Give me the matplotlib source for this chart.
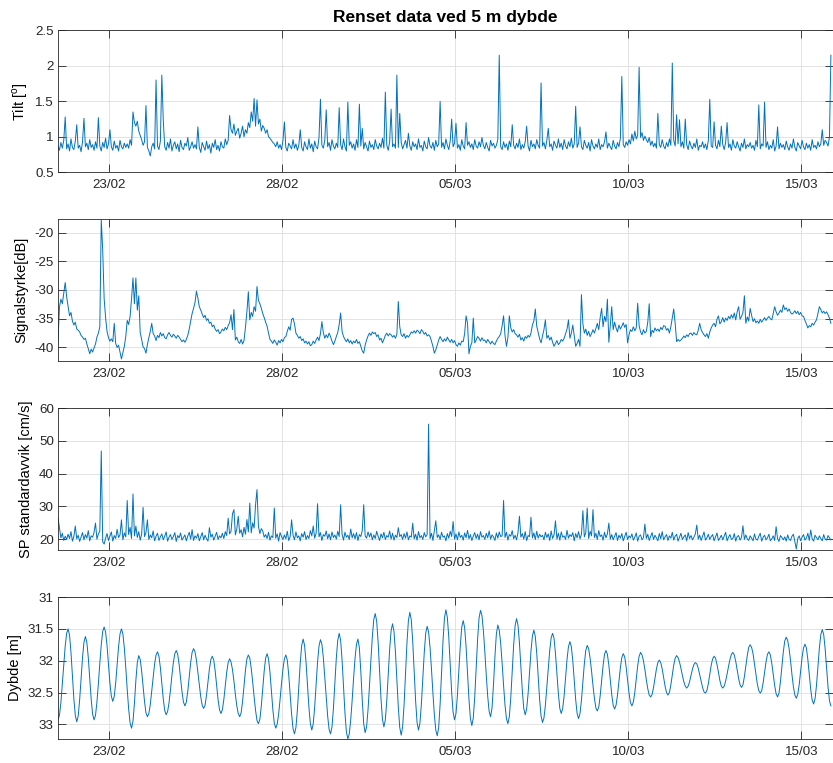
import numpy as np
import matplotlib
matplotlib.use("Agg")
import matplotlib.pyplot as plt
import matplotlib.dates as mdates
from matplotlib.ticker import FuncFormatter

plt.rcParams['font.family'] = ['Liberation Sans', 'DejaVu Sans']
plt.rcParams['axes.unicode_minus'] = False

# hourly samples, first one at 21/02 12:24
t0 = np.datetime64('2017-02-21T12:24')
t_end = t0 + np.timedelta64(32268, 'm')
tick_days = ['2017-02-23', '2017-02-28', '2017-03-05', '2017-03-10', '2017-03-15']

tilt = [
    0.86, 0.81, 0.92, 0.84, 0.95, 1.28, 0.83, 0.90, 0.80, 0.97, 0.85, 0.82, 0.94, 1.17, 0.84, 0.88, 0.79, 0.93, 1.26, 0.86, 0.91, 0.82, 0.96, 0.85,
    0.89, 0.81, 0.93, 0.84, 1.27, 0.87, 0.80, 0.92, 0.85, 0.98, 0.83, 0.90, 1.10, 0.86, 0.81, 0.94, 0.84, 0.88, 0.80, 0.95, 0.86, 0.83, 0.91, 0.85,
    0.90, 0.84, 0.96, 0.88, 1.35, 1.20, 1.15, 1.22, 1.08, 1.02, 0.96, 0.88, 0.93, 1.44, 0.85, 0.80, 0.73, 0.86, 0.91, 0.83, 1.80, 0.87, 0.82, 0.94,
    1.87, 1.24, 0.86, 0.81, 0.92, 0.84, 0.97, 0.80, 0.88, 0.93, 0.83, 0.90, 0.79, 0.95, 0.85, 0.82, 0.91, 0.87, 0.99, 0.81, 0.86, 0.93, 0.84, 0.89,
    0.83, 1.14, 0.85, 0.78, 0.92, 0.86, 0.81, 0.94, 0.83, 0.89, 0.77, 0.91, 0.85, 0.96, 0.82, 0.88, 0.80, 0.93, 0.86, 0.84, 0.97, 0.89, 0.95, 1.30,
    1.10, 1.05, 1.18, 1.02, 1.08, 1.12, 0.98, 1.05, 1.15, 1.00, 1.10, 1.05, 1.20, 1.13, 1.35, 1.22, 1.54, 1.15, 1.52, 1.18, 1.25, 1.08, 1.16, 1.12,
    1.05, 1.10, 1.00, 0.98, 0.95, 0.92, 0.90, 0.86, 0.93, 0.84, 0.89, 0.82, 0.95, 1.21, 0.85, 0.80, 0.91, 0.87, 0.83, 0.96, 0.84, 0.90, 0.81, 0.88,
    1.10, 0.85, 0.80, 0.93, 0.86, 0.82, 0.97, 0.84, 0.90, 0.79, 0.94, 0.86, 0.83, 0.99, 1.53, 0.88, 0.84, 0.95, 1.38, 0.86, 0.92, 0.81, 0.96, 0.87,
    0.83, 0.91, 0.85, 1.41, 0.89, 0.82, 0.97, 0.86, 0.80, 1.49, 0.88, 0.93, 0.84, 0.90, 0.81, 0.96, 0.85, 1.46, 0.87, 1.12, 0.83, 0.92, 0.86, 0.80,
    0.94, 0.85, 0.89, 0.82, 0.96, 0.87, 0.83, 0.91, 0.85, 0.98, 0.84, 1.63, 0.88, 0.81, 0.93, 1.39, 0.86, 0.90, 0.84, 1.87, 0.85, 1.33, 0.92, 0.83,
    0.89, 0.95, 0.84, 1.05, 0.87, 0.81, 0.93, 0.86, 0.90, 0.82, 0.97, 0.85, 0.88, 0.80, 0.94, 0.86, 0.83, 0.99, 0.87, 0.84, 0.92, 0.81, 0.95, 0.86,
    0.90, 1.50, 0.85, 0.92, 0.83, 0.97, 0.88, 0.82, 0.94, 1.25, 0.86, 0.91, 1.19, 0.84, 0.89, 0.81, 0.96, 0.87, 0.83, 1.20, 0.88, 0.93, 0.85, 0.90,
    0.82, 0.96, 0.87, 0.84, 0.93, 0.86, 0.99, 0.88, 0.83, 0.92, 0.85, 0.80, 0.95, 0.87, 0.91, 0.84, 0.88, 0.96, 2.15, 0.86, 0.82, 0.93, 0.85, 0.90,
    0.81, 0.94, 0.86, 1.17, 0.88, 0.83, 0.91, 0.85, 0.97, 0.82, 0.89, 0.84, 0.93, 1.15, 0.87, 0.80, 0.95, 0.86, 0.90, 0.83, 0.96, 0.88, 0.84, 1.76,
    0.87, 0.92, 0.83, 0.95, 1.12, 0.86, 0.90, 0.81, 0.94, 0.88, 0.84, 0.97, 0.85, 0.91, 0.82, 0.96, 0.87, 0.83, 0.93, 0.86, 0.98, 0.84, 0.90, 1.43,
    0.85, 0.91, 1.14, 0.86, 0.82, 0.95, 0.88, 0.84, 0.92, 0.80, 0.96, 0.87, 0.83, 0.90, 0.85, 0.97, 0.82, 0.89, 0.86, 0.93, 1.07, 0.84, 0.91, 0.86,
    0.82, 0.95, 0.87, 0.83, 0.92, 0.86, 0.98, 1.85, 0.89, 0.85, 0.93, 0.88, 0.96, 0.90, 1.04, 0.94, 1.08, 0.97, 1.02, 1.98, 0.99, 1.06, 0.95, 1.01,
    0.96, 0.92, 0.99, 0.88, 0.94, 0.86, 0.91, 0.84, 1.33, 0.89, 0.85, 0.96, 0.87, 0.83, 0.92, 0.86, 0.97, 0.88, 2.04, 0.95, 0.87, 1.31, 0.90, 1.24,
    0.86, 0.93, 0.84, 1.25, 0.89, 0.82, 0.94, 0.87, 0.83, 0.91, 0.85, 0.97, 0.81, 0.88, 0.86, 0.93, 0.84, 0.90, 0.82, 0.95, 1.53, 0.87, 0.85, 1.21,
    0.88, 0.83, 0.95, 0.86, 1.15, 0.89, 0.82, 0.92, 1.20, 0.85, 0.90, 0.81, 0.96, 0.87, 0.84, 0.93, 0.86, 0.80, 0.91, 0.85, 0.97, 0.83, 0.89, 0.86,
    0.92, 0.84, 0.88, 0.81, 0.95, 0.86, 1.45, 0.83, 0.90, 0.87, 1.49, 0.85, 0.93, 0.82, 0.88, 0.84, 0.96, 0.80, 0.87, 1.14, 0.83, 0.91, 0.85, 0.89,
    0.82, 0.94, 0.86, 0.81, 0.90, 0.84, 0.97, 0.85, 0.80, 0.92, 0.87, 0.83, 0.95, 0.86, 0.82, 0.91, 0.84, 0.89, 0.81, 0.96, 0.85, 0.88, 0.83, 0.93,
    0.86, 0.90, 1.10, 0.88, 0.95, 0.92, 0.87, 1.00, 2.15,
]

signal = [
    -38.9, -33.0, -31.6, -32.4, -30.6, -28.7, -31.2, -32.8, -34.5, -33.9, -35.4, -36.1, -35.6, -36.8, -37.0, -37.3, -37.9, -38.2, -38.6, -38.4, -39.4, -40.2, -41.1, -40.3,
    -40.8, -40.1, -39.4, -38.2, -37.5, -36.4, -17.8, -23.0, -31.5, -34.8, -37.2, -38.3, -38.9, -38.5, -39.0, -35.8, -39.3, -40.0, -39.6, -40.8, -42.0, -40.9, -39.8, -38.1,
    -35.3, -36.0, -34.6, -31.5, -27.9, -32.4, -27.9, -33.5, -31.0, -37.4, -38.6, -39.9, -40.2, -41.0, -39.5, -38.3, -37.2, -35.8, -37.6, -38.0, -38.8, -37.9, -38.3, -37.4,
    -38.0, -37.6, -38.3, -38.5, -37.8, -37.4, -37.9, -38.2, -37.7, -38.0, -38.4, -37.9, -38.2, -38.6, -39.0, -38.7, -39.1, -38.6, -37.9, -36.8, -35.4, -34.1, -33.2, -32.2,
    -30.2, -31.4, -32.9, -33.5, -34.2, -34.8, -34.4, -35.3, -35.0, -35.8, -35.6, -36.4, -36.1, -36.8, -37.2, -36.9, -37.6, -37.3, -36.8, -37.1, -36.5, -36.9, -36.2, -35.7,
    -34.3, -36.9, -33.4, -38.7, -38.2, -39.0, -39.3, -38.6, -39.4, -38.8, -36.5, -33.8, -30.3, -35.2, -33.9, -34.6, -32.9, -33.7, -29.4, -31.8, -32.4, -33.2, -34.1, -34.8,
    -35.6, -36.3, -37.5, -38.6, -38.9, -39.3, -38.7, -39.1, -39.6, -38.8, -39.2, -38.6, -39.0, -38.3, -38.1, -37.2, -36.4, -37.0, -35.1, -34.9, -35.9, -37.5, -37.9, -38.4,
    -38.1, -38.8, -38.5, -39.2, -38.9, -39.4, -39.0, -39.7, -39.5, -38.9, -39.3, -38.7, -38.2, -38.8, -37.6, -35.5, -37.4, -38.4, -37.8, -38.3, -37.5, -38.1, -38.9, -39.5,
    -38.9, -38.1, -37.4, -36.0, -34.0, -37.2, -38.1, -38.6, -39.0, -38.5, -39.2, -38.8, -39.4, -38.9, -39.2, -38.6, -39.3, -39.0, -39.8, -40.6, -41.0, -39.6, -38.7, -38.0,
    -37.5, -37.9, -37.3, -37.6, -37.4, -38.1, -37.8, -38.7, -38.4, -39.2, -38.6, -37.9, -37.5, -38.0, -37.6, -37.8, -38.2, -37.9, -38.4, -37.7, -32.0, -36.4, -37.8, -38.1,
    -37.6, -38.4, -37.9, -38.2, -37.8, -37.3, -37.5, -37.1, -37.5, -37.0, -37.2, -37.6, -36.9, -37.2, -37.7, -37.4, -38.0, -37.8, -38.1, -38.9, -39.8, -41.0, -40.4, -39.6,
    -38.7, -38.1, -38.6, -39.0, -38.5, -38.9, -38.2, -38.7, -39.1, -38.6, -39.2, -38.8, -39.5, -39.8, -39.2, -39.6, -38.9, -39.0, -37.6, -34.5, -35.8, -41.1, -39.8, -39.2,
    -34.9, -39.2, -38.7, -38.1, -38.4, -38.9, -38.3, -38.8, -38.7, -39.2, -38.6, -39.0, -39.4, -38.9, -39.3, -39.5, -38.9, -38.4, -38.1, -37.6, -36.2, -34.5, -37.9, -39.8,
    -38.3, -34.5, -36.6, -37.3, -36.9, -37.6, -37.8, -38.2, -37.7, -38.7, -38.3, -38.9, -38.1, -38.4, -37.9, -38.2, -37.5, -36.1, -35.4, -33.3, -36.3, -37.4, -38.5, -39.2,
    -38.0, -36.9, -35.2, -38.4, -37.9, -38.7, -38.2, -39.1, -39.8, -39.3, -38.8, -39.5, -39.2, -38.6, -38.9, -38.4, -37.6, -36.8, -35.2, -38.4, -37.5, -36.1, -37.9, -39.8,
    -39.3, -38.6, -39.8, -30.8, -35.9, -37.5, -36.8, -37.9, -37.2, -38.1, -37.6, -36.9, -37.5, -36.7, -35.8, -36.9, -34.8, -33.2, -36.4, -34.6, -35.5, -31.6, -39.1, -36.2,
    -32.9, -36.9, -35.6, -36.6, -37.3, -36.1, -36.8, -36.3, -35.7, -36.5, -36.0, -39.2, -37.8, -36.9, -37.2, -36.4, -37.1, -36.6, -32.3, -36.2, -37.3, -37.8, -36.9, -37.5,
    -37.2, -35.6, -32.4, -38.1, -37.0, -37.4, -36.6, -37.1, -36.8, -37.2, -36.5, -36.9, -36.2, -36.3, -37.0, -36.7, -37.5, -36.4, -34.8, -33.3, -35.8, -39.0, -38.6, -38.9,
    -38.7, -38.4, -38.0, -38.3, -37.8, -38.1, -37.6, -37.5, -37.9, -37.4, -37.7, -37.8, -37.0, -35.8, -36.9, -37.4, -37.8, -38.1, -37.6, -38.4, -37.3, -36.6, -36.1, -35.8,
    -36.4, -35.1, -34.5, -35.9, -35.5, -34.8, -35.6, -34.9, -35.3, -34.6, -35.0, -34.3, -34.9, -34.0, -35.2, -33.8, -32.9, -35.1, -34.6, -33.9, -31.0, -35.8, -34.7, -35.4,
    -33.2, -34.4, -35.5, -35.0, -35.7, -35.4, -35.8, -35.1, -35.6, -35.2, -34.8, -35.3, -34.9, -34.6, -35.0, -35.2, -34.1, -32.9, -33.8, -34.4, -34.0, -33.5, -33.9, -32.6,
    -33.4, -33.1, -33.7, -33.3, -33.9, -34.2, -34.0, -33.6, -34.1, -33.7, -34.3, -33.9, -34.5, -34.6, -35.3, -35.9, -36.6, -36.2, -36.4, -35.8, -36.1, -35.6, -35.2, -34.1,
    -32.9, -33.4, -34.0, -33.7, -34.1, -33.8, -34.3, -34.9, -35.8,
]

sp_std = [
    26.6, 23.5, 20.4, 21.8, 19.6, 20.9, 19.9, 21.5, 20.2, 22.3, 19.4, 20.8, 24.0, 20.1, 21.2, 19.3, 20.7, 22.0, 19.8, 21.4, 20.3, 22.6, 19.5, 21.0,
    20.6, 22.1, 24.9, 20.0, 21.6, 22.4, 46.9, 19.2, 18.5, 20.3, 21.7, 19.6, 20.9, 22.2, 19.4, 21.1, 20.2, 23.0, 20.5, 21.3, 25.9, 19.8, 21.9, 20.7,
    31.8, 21.4, 23.6, 20.2, 33.8, 21.0, 24.0, 20.5, 22.3, 19.7, 21.5, 29.7, 20.8, 22.0, 25.9, 19.9, 21.3, 20.4, 22.5, 19.5, 20.9, 21.8, 19.6, 20.7,
    21.6, 19.8, 20.9, 22.2, 19.4, 20.6, 21.4, 19.9, 20.8, 22.0, 19.3, 21.1, 20.4, 21.9, 19.7, 20.5, 21.3, 19.5, 20.9, 22.1, 20.0, 22.9, 19.6, 21.0,
    20.3, 21.7, 19.5, 20.8, 22.0, 19.8, 21.2, 20.1, 19.4, 23.5, 20.6, 21.5, 19.7, 20.9, 22.1, 19.9, 21.0, 20.4, 21.8, 20.2, 22.3, 21.1, 26.4, 21.6,
    22.4, 27.7, 29.0, 21.3, 23.1, 27.0, 21.8, 22.9, 20.7, 23.6, 21.5, 26.0, 22.2, 31.0, 21.9, 25.0, 23.4, 30.5, 35.1, 24.0, 21.7, 23.2, 22.5, 20.6,
    21.4, 20.2, 22.1, 19.7, 21.0, 20.5, 29.5, 20.3, 21.6, 19.4, 22.0, 20.8, 19.9, 21.3, 20.1, 22.4, 19.6, 20.7, 25.9, 21.2, 19.8, 22.2, 20.4, 21.0,
    19.5, 21.7, 20.6, 22.3, 19.9, 21.1, 20.2, 22.6, 21.0, 24.0, 20.3, 21.8, 30.8, 20.7, 22.0, 19.6, 21.4, 20.9, 22.5, 20.1, 21.6, 19.8, 22.2, 20.5,
    21.3, 20.0, 22.4, 20.8, 30.5, 21.5, 19.7, 22.1, 20.6, 21.2, 19.9, 23.1, 20.4, 21.7, 20.1, 22.0, 19.6, 21.4, 20.8, 22.6, 30.5, 21.0, 20.3, 22.2,
    20.7, 21.9, 19.8, 21.3, 20.2, 22.4, 20.9, 19.6, 21.6, 20.4, 22.1, 19.9, 21.1, 20.6, 22.5, 20.0, 21.8, 19.7, 21.2, 20.5, 23.5, 20.8, 21.4, 19.9,
    21.7, 20.3, 22.2, 19.8, 21.0, 20.6, 24.9, 20.1, 21.5, 19.7, 22.3, 20.4, 21.1, 19.9, 22.0, 20.7, 21.4, 55.1, 20.2, 21.8, 19.6, 22.6, 25.6, 20.5,
    21.3, 19.9, 22.1, 20.6, 21.0, 19.5, 21.7, 20.3, 22.4, 20.8, 25.4, 20.0, 21.6, 19.8, 22.2, 20.5, 21.2, 19.7, 21.9, 20.4, 22.7, 20.1, 21.4, 19.6,
    20.9, 22.0, 20.2, 21.5, 19.8, 22.3, 20.6, 21.1, 19.9, 21.8, 20.4, 22.5, 20.0, 21.3, 20.7, 19.6, 21.9, 20.3, 22.2, 20.8, 21.0, 31.8, 20.5, 22.1,
    19.7, 21.4, 20.9, 22.6, 20.1, 21.2, 19.8, 22.0, 27.0, 20.6, 21.7, 20.0, 22.3, 19.6, 21.1, 20.8, 26.7, 20.4, 21.9, 19.9, 22.4, 20.3, 21.5, 20.7,
    21.2, 19.8, 22.1, 20.5, 21.6, 19.6, 22.5, 20.2, 21.3, 25.6, 20.0, 21.8, 19.7, 22.2, 20.6, 21.0, 19.9, 22.7, 20.3, 21.4, 20.8, 22.0, 19.5, 21.7,
    20.4, 22.3, 20.1, 21.5, 28.7, 20.7, 21.9, 29.5, 20.2, 22.4, 21.0, 29.0, 20.5, 21.8, 19.9, 22.6, 20.8, 21.3, 19.7, 22.1, 20.4, 21.6, 24.9, 20.0,
    21.4, 19.8, 20.9, 22.0, 19.6, 21.2, 20.3, 21.7, 19.5, 20.8, 22.1, 19.9, 21.0, 20.4, 21.6, 19.7, 20.6, 21.9, 19.4, 20.9, 21.3, 19.8, 20.5, 24.6,
    20.2, 21.5, 19.6, 20.8, 22.0, 19.9, 21.2, 20.4, 19.5, 21.7, 20.1, 22.3, 19.8, 20.7, 21.4, 19.6, 21.0, 20.3, 22.1, 19.7, 20.9, 21.5, 19.4, 20.6,
    21.8, 19.9, 20.7, 21.3, 19.5, 22.0, 20.2, 21.1, 19.8, 20.6, 21.6, 24.3, 20.0, 21.2, 19.6, 20.9, 22.2, 19.7, 20.4, 21.5, 19.9, 20.8, 21.4, 19.5,
    20.7, 21.9, 19.6, 20.3, 21.2, 19.8, 20.9, 22.1, 19.5, 20.6, 21.4, 19.9, 20.2, 21.7, 19.4, 20.8, 21.1, 19.7, 20.5, 24.1, 19.9, 21.3, 20.1, 19.6,
    21.0, 20.3, 19.5, 21.6, 20.0, 19.7, 20.9, 21.8, 19.4, 20.6, 21.2, 19.8, 20.4, 21.5, 19.5, 20.1, 21.0, 19.6, 23.8, 20.2, 19.3, 21.1, 20.5, 19.8,
    20.7, 19.4, 21.3, 20.0, 19.6, 20.9, 21.5, 19.3, 17.0, 20.2, 21.0, 19.5, 20.6, 21.4, 19.7, 20.3, 21.8, 19.6, 22.8, 20.1, 19.4, 21.2, 20.5, 19.8,
    21.0, 20.2, 19.5, 21.4, 20.0, 19.7, 21.1, 20.4, 19.8,
]

depth = [
    32.93, 32.86, 32.66, 32.37, 32.06, 31.77, 31.57, 31.50,
    31.60, 31.87, 32.23, 32.60, 32.86, 32.96,
    32.87, 32.62, 32.29, 31.95, 31.71, 31.62,
    31.71, 31.95, 32.28, 32.60, 32.84, 32.93,
    32.86, 32.65, 32.36, 32.04, 31.75, 31.54, 31.47,
    31.55, 31.76, 32.06, 32.35, 32.56, 32.64,
    32.56, 32.35, 32.07, 31.78, 31.58, 31.50,
    31.58, 31.80, 32.11, 32.45, 32.76, 32.98, 33.06,
    32.95, 32.67, 32.31, 32.03, 31.92,
    31.98, 32.16, 32.40, 32.64, 32.82, 32.88,
    32.83, 32.69, 32.48, 32.26, 32.05, 31.91, 31.86,
    31.93, 32.11, 32.36, 32.60, 32.78, 32.85,
    32.80, 32.66, 32.46, 32.23, 32.03, 31.89, 31.84,
    31.90, 32.06, 32.28, 32.49, 32.65, 32.71,
    32.65, 32.48, 32.26, 32.03, 31.87, 31.81,
    31.86, 31.99, 32.18, 32.38, 32.57, 32.70, 32.75,
    32.70, 32.54, 32.34, 32.13, 31.98, 31.93,
    31.99, 32.16, 32.38, 32.61, 32.77, 32.83,
    32.77, 32.61, 32.40, 32.18, 32.03, 31.97,
    32.02, 32.14, 32.32, 32.53, 32.71, 32.83, 32.88,
    32.82, 32.64, 32.39, 32.15, 31.97, 31.91,
    31.96, 32.12, 32.33, 32.57, 32.78, 32.94, 32.99,
    32.92, 32.71, 32.44, 32.16, 31.96, 31.89,
    31.97, 32.18, 32.48, 32.77, 32.98, 33.06,
    33.00, 32.84, 32.61, 32.36, 32.13, 31.97, 31.91,
    31.99, 32.22, 32.53, 32.84, 33.07, 33.15,
    33.05, 32.78, 32.40, 32.03, 31.76, 31.66,
    31.76, 32.02, 32.38, 32.73, 32.99, 33.09,
    32.99, 32.73, 32.38, 32.02, 31.77, 31.67,
    31.74, 31.95, 32.25, 32.57, 32.87, 33.08, 33.15,
    33.04, 32.75, 32.36, 31.96, 31.68, 31.57,
    31.68, 31.99, 32.40, 32.82, 33.12, 33.23,
    33.15, 32.93, 32.62, 32.27, 31.96, 31.74, 31.66,
    31.80, 32.17, 32.62, 32.99, 33.13,
    33.04, 32.77, 32.40, 31.99, 31.62, 31.35, 31.26,
    31.38, 31.71, 32.15, 32.60, 32.92, 33.04,
    32.93, 32.63, 32.23, 31.82, 31.53, 31.42,
    31.54, 31.86, 32.30, 32.73, 33.05, 33.17,
    33.04, 32.69, 32.20, 31.72, 31.37, 31.24,
    31.36, 31.70, 32.17, 32.63, 32.97, 33.09,
    32.98, 32.68, 32.27, 31.87, 31.57, 31.46,
    31.55, 31.79, 32.13, 32.51, 32.85, 33.09, 33.18,
    33.05, 32.68, 32.19, 31.69, 31.33, 31.20,
    31.32, 31.63, 32.07, 32.50, 32.81, 32.93,
    32.83, 32.54, 32.15, 31.76, 31.47, 31.37,
    31.48, 31.78, 32.20, 32.61, 32.91, 33.02,
    32.90, 32.57, 32.11, 31.66, 31.33, 31.21,
    31.29, 31.53, 31.86, 32.23, 32.56, 32.80, 32.88,
    32.74, 32.38, 31.94, 31.58, 31.44,
    31.52, 31.73, 32.04, 32.39, 32.70, 32.91, 32.99,
    32.88, 32.58, 32.16, 31.75, 31.45, 31.34,
    31.44, 31.72, 32.10, 32.47, 32.75, 32.85,
    32.76, 32.52, 32.18, 31.85, 31.61, 31.52,
    31.62, 31.88, 32.25, 32.61, 32.87, 32.97,
    32.90, 32.70, 32.42, 32.12, 31.84, 31.64, 31.57,
    31.65, 31.89, 32.20, 32.52, 32.75, 32.83,
    32.75, 32.55, 32.26, 31.98, 31.78, 31.70,
    31.78, 32.00, 32.31, 32.61, 32.83, 32.91,
    32.83, 32.62, 32.33, 32.05, 31.84, 31.76,
    31.81, 31.96, 32.16, 32.39, 32.59, 32.74, 32.79,
    32.73, 32.55, 32.31, 32.08, 31.90, 31.84,
    31.90, 32.07, 32.30, 32.53, 32.70, 32.76,
    32.70, 32.54, 32.32, 32.11, 31.95, 31.89,
    31.94, 32.10, 32.30, 32.51, 32.66, 32.71,
    32.65, 32.50, 32.29, 32.08, 31.93, 31.87,
    31.91, 32.00, 32.14, 32.30, 32.44, 32.54, 32.57,
    32.53, 32.42, 32.28, 32.13, 32.03, 31.99,
    32.03, 32.13, 32.27, 32.40, 32.50, 32.54,
    32.50, 32.38, 32.23, 32.07, 31.96, 31.92,
    31.95, 32.02, 32.12, 32.23, 32.33, 32.40, 32.43,
    32.40, 32.33, 32.23, 32.13, 32.06, 32.03,
    32.05, 32.12, 32.22, 32.32, 32.42, 32.49, 32.51,
    32.47, 32.36, 32.22, 32.07, 31.97, 31.93,
    31.96, 32.06, 32.18, 32.31, 32.40, 32.43,
    32.40, 32.32, 32.21, 32.09, 31.98, 31.90, 31.87,
    31.91, 32.01, 32.15, 32.28, 32.38, 32.42,
    32.38, 32.25, 32.08, 31.92, 31.79, 31.75,
    31.79, 31.89, 32.05, 32.21, 32.37, 32.47, 32.51,
    32.47, 32.35, 32.18, 32.02, 31.90, 31.86,
    31.91, 32.04, 32.22, 32.39, 32.52, 32.57,
    32.51, 32.33, 32.10, 31.86, 31.69, 31.63,
    31.68, 31.81, 32.00, 32.22, 32.41, 32.54, 32.59,
    32.53, 32.38, 32.16, 31.95, 31.80, 31.74,
    31.80, 31.98, 32.21, 32.45, 32.62, 32.68,
    32.60, 32.39, 32.09, 31.80, 31.59, 31.51,
    31.59, 31.81, 32.11, 32.41, 32.63, 32.71,
]


def hourly(values):
    return t0 + np.arange(len(values)) * np.timedelta64(60, 'm')


line_color = '#0072BD'
frame = '#262626'

fig = plt.figure(figsize=(8.33, 7.63), dpi=100)
left, width = 58 / 833, 775.5 / 833

panels = [
    (tilt, r'Tilt [$^\mathregular{o}$]', (0.5, 2.5), [0.5, 1, 1.5, 2, 2.5], 0.7742),
    (signal, 'Signalstyrke[dB]', (-42.3, -17.6), [-40, -35, -30, -25, -20], 0.5273),
    (sp_std, 'SP standardavvik [cm/s]', (16.7, 60), [20, 30, 40, 50, 60], 0.2792),
    (depth, 'Dybde [m]', (33.23, 31), [31, 31.5, 32, 32.5, 33], 0.0315),
]

axes = []
for values, label, ylim, yticks, bottom in panels:
    ax = fig.add_axes([left, bottom, width, 0.186])
    ax.plot(hourly(values), values, color=line_color, lw=0.7)
    ax.set_xlim(t0, t_end)
    ax.set_ylim(*ylim)
    ax.set_yticks(yticks)
    ax.yaxis.set_major_formatter(FuncFormatter(lambda v, p: '%g' % v))
    ax.set_xticks([np.datetime64(d) for d in tick_days])
    ax.xaxis.set_major_formatter(mdates.DateFormatter('%d/%m'))
    ax.set_ylabel(label, fontsize=10.5, color='black', labelpad=4)
    ax.grid(True, color='#dedede', lw=0.6)
    ax.set_axisbelow(True)
    ax.tick_params(direction='in', length=5.5, width=0.6, colors=frame,
                   top=True, right=True, labelsize=9.6, pad=3)
    ax.tick_params(axis='x', pad=5)
    for s in ax.spines.values():
        s.set_color(frame)
        s.set_linewidth(0.6)
    axes.append(ax)

axes[0].set_title('Renset data ved 5 m dybde', fontsize=12.5, fontweight='bold', pad=6)

fig.savefig('out.png', dpi=100)
